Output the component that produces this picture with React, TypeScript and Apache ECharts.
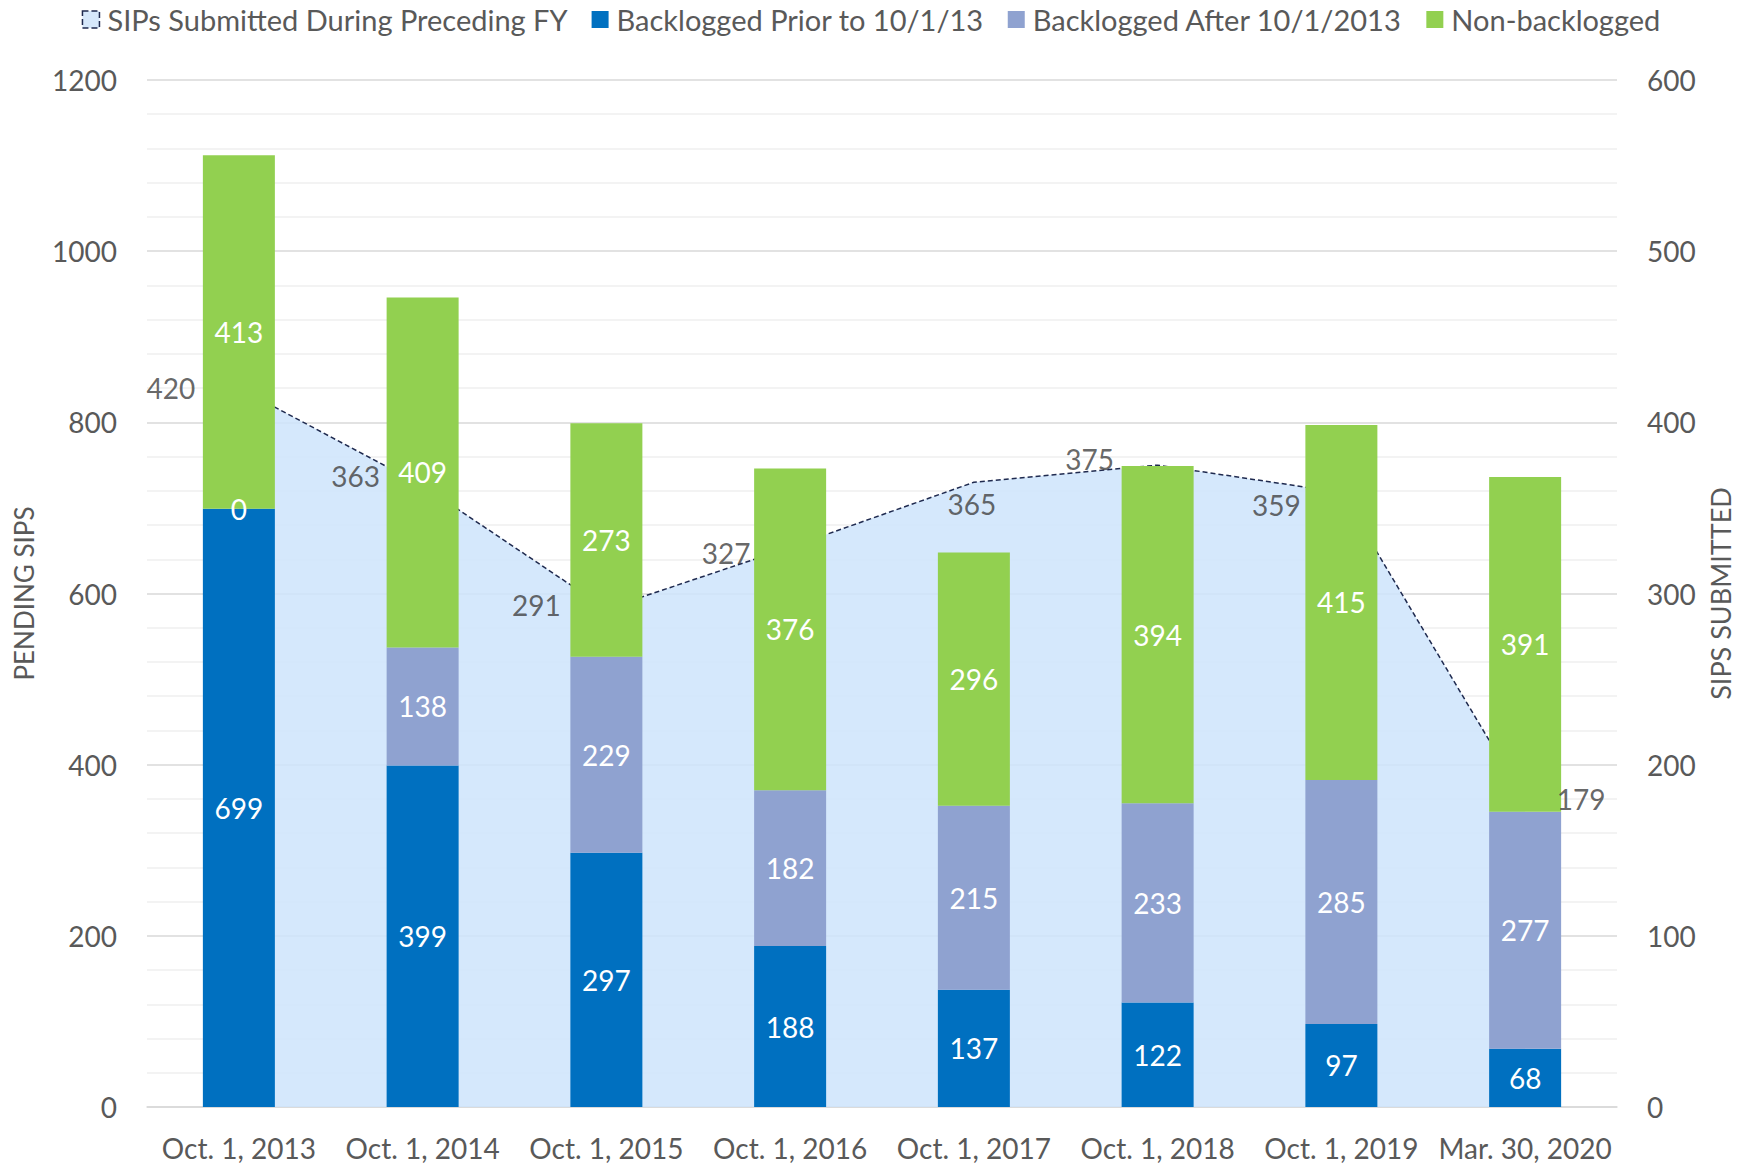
import React, { useEffect, useRef } from "react";
import * as echarts from "echarts";

const categories = ["Oct. 1, 2013", "Oct. 1, 2014", "Oct. 1, 2015", "Oct. 1, 2016", "Oct. 1, 2017", "Oct. 1, 2018", "Oct. 1, 2019", "Mar. 30, 2020"];
const backloggedPrior = [699, 399, 297, 188, 137, 122, 97, 68];
const backloggedAfter = [0, 138, 229, 182, 215, 233, 285, 277];
const nonBacklogged = [413, 409, 273, 376, 296, 394, 415, 391];
const submitted = [420, 363, 291, 327, 365, 375, 359, 179];
const submittedLabelOffsets = [[-68, 0], [-67, -10], [-70, -4], [-64, 6], [-2, 22], [-68, -6], [-65, 12], [56, -2]];

const FONT = "Lato, 'Open Sans', sans-serif";
const TXT = "#595959";

export default function App() {
  const ref = useRef<HTMLDivElement>(null);
  useEffect(() => {
    const chart = echarts.init(ref.current!, undefined, { renderer: "svg" });
    const barLabel = { show: true, position: "inside", color: "#fff", fontSize: 28, fontFamily: FONT };
    chart.setOption({
      animation: false,
      textStyle: { fontFamily: FONT },
      legend: {
        top: 0,
        left: "center",
        itemWidth: 17,
        itemHeight: 17,
        itemGap: 24,
        textStyle: { color: TXT, fontSize: 29, fontFamily: FONT, padding: [0, 0, 0, 3] },
        data: [
          { name: "SIPs Submitted During Preceding FY", icon: "rect", itemStyle: { color: "#D6E8FB", borderColor: "#1F2A4F", borderWidth: 1.5, borderType: "dashed" } },
          { name: "Backlogged Prior to 10/1/13", icon: "rect" },
          { name: "Backlogged After 10/1/2013", icon: "rect" },
          { name: "Non-backlogged", icon: "rect" },
        ],
      },
      grid: { left: 147, right: 118, top: 80, bottom: 58 },
      xAxis: {
        type: "category",
        data: categories,
        axisLine: { lineStyle: { color: "#d9d9d9", width: 1.5 } },
        axisTick: { show: false },
        axisLabel: { color: TXT, fontSize: 28, fontFamily: FONT, margin: 27, interval: 0 },
      },
      yAxis: [
        {
          type: "value",
          min: 0,
          max: 1200,
          interval: 200,
          name: "PENDING SIPS",
          nameLocation: "middle",
          nameGap: 110,
          nameTextStyle: { color: TXT, fontSize: 26, fontFamily: FONT },
          axisLabel: { color: TXT, fontSize: 28, fontFamily: FONT, margin: 30, formatter: (v: number) => String(v) },
          axisLine: { show: false },
          axisTick: { show: false },
          splitLine: { lineStyle: { color: "#d9d9d9", width: 1.5 } },
          minorTick: { show: false, splitNumber: 5 },
          minorSplitLine: { show: true, lineStyle: { color: "#efefef", width: 1.5 } },
        },
        {
          type: "value",
          min: 0,
          max: 600,
          interval: 100,
          name: "SIPS SUBMITTED",
          nameLocation: "middle",
          nameGap: 90,
          nameRotate: 90,
          nameTextStyle: { color: TXT, fontSize: 27, fontFamily: FONT },
          axisLabel: { color: TXT, fontSize: 28, fontFamily: FONT, margin: 30, align: "left", formatter: (v: number) => String(v) },
          axisLine: { show: false },
          axisTick: { show: false },
          splitLine: { show: false },
        },
      ],
      series: [
        {
          name: "SIPs Submitted During Preceding FY",
          type: "line",
          yAxisIndex: 1,
          data: submitted,
          z: 1,
          symbol: "none",
          lineStyle: { color: "#1F2A4F", width: 1.5, type: [5, 3] },
          itemStyle: { color: "#D6E8FB" },
          areaStyle: { color: "rgba(206,228,251,0.85)", opacity: 1 },
        },
        {
          name: "submittedLabels",
          type: "scatter",
          yAxisIndex: 1,
          z: 10,
          symbolSize: 1,
          itemStyle: { color: "rgba(0,0,0,0)" },
          data: submitted.map((v, i) => ({
            value: v,
            label: { show: true, position: "inside", offset: submittedLabelOffsets[i], color: "#404040", fontSize: 28, fontFamily: FONT, formatter: "{c}" },
          })),
          silent: true,
        },
        {
          name: "Backlogged Prior to 10/1/13",
          type: "bar",
          stack: "p",
          z: 5,
          barWidth: 72,
          data: backloggedPrior,
          itemStyle: { color: "#0070C0" },
          label: barLabel,
        },
        {
          name: "Backlogged After 10/1/2013",
          type: "bar",
          stack: "p",
          z: 5,
          barWidth: 72,
          data: backloggedAfter,
          itemStyle: { color: "#8FA2D0" },
          label: barLabel,
        },
        {
          name: "Non-backlogged",
          type: "bar",
          stack: "p",
          z: 5,
          barWidth: 72,
          data: nonBacklogged,
          itemStyle: { color: "#92D050" },
          label: barLabel,
        },
      ],
    });
    return () => chart.dispose();
  }, []);
  return <div ref={ref} style={{ position: "absolute", left: 0, top: 0, width: 1742, height: 1165 }} />;
}
